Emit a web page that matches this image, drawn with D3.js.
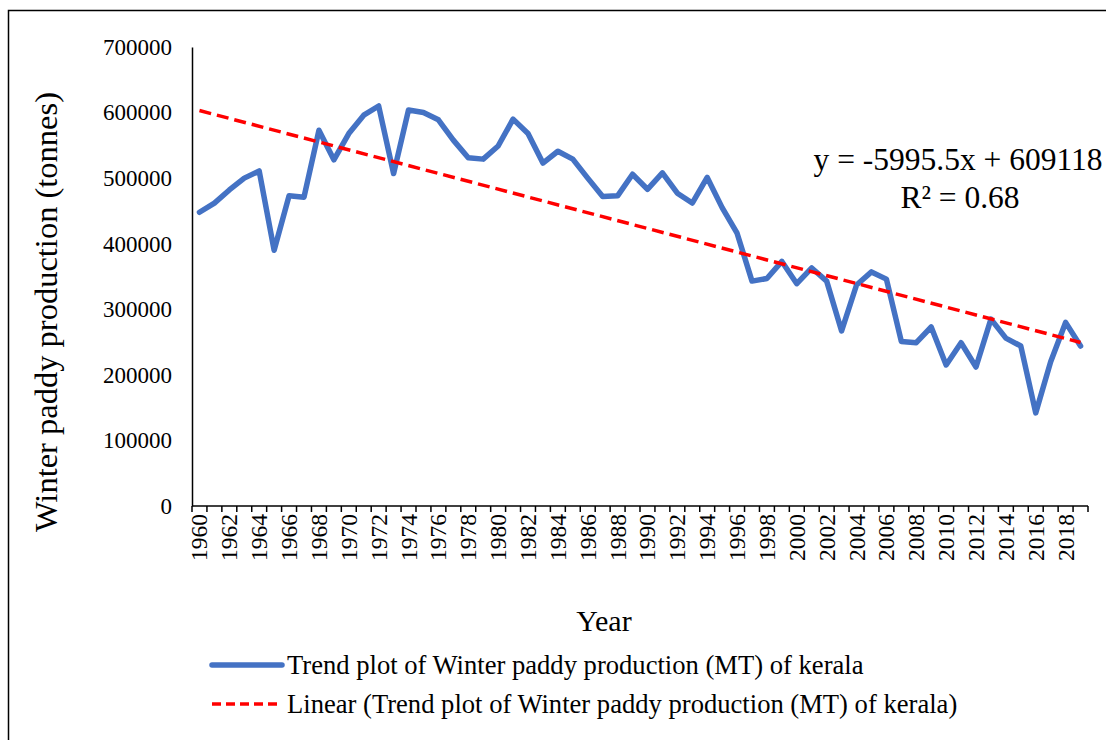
<!DOCTYPE html>
<html><head><meta charset="utf-8">
<script src="https://cdn.jsdelivr.net/npm/d3@7"></script>
<style>
html,body{margin:0;padding:0;background:#fff;}
text{font-family:"Times New Roman","Liberation Serif",serif;fill:#000;}
</style></head>
<body><svg id="chart" width="1106" height="740"></svg>
<script>
const years = d3.range(1960, 2020);
const production = [
 448000,462000,482000,500000,511000,390000,473000,471000,573000,528000,
 568000,596000,610000,507000,604000,600000,589000,558000,531000,529000,
 549000,590000,568000,523000,541000,529000,500000,472000,473000,506000,
 483000,508000,477000,462000,501000,455000,416000,343000,347000,373000,
 339000,363000,343000,267000,337000,357000,346000,251000,249000,273000,
 215000,249000,212000,285000,256000,244000,142000,220000,280000,244000
];
const yTicks = [0,100000,200000,300000,400000,500000,600000,700000];
const trendSlope = -5995.5, trendIntercept = 609118, r2 = 0.68;
const seriesName = "Trend plot of Winter paddy production (MT) of kerala";
const trendName = "Linear (Trend plot of Winter paddy production (MT) of kerala)";
const yTitle = "Winter paddy production (tonnes)";
const xTitle = "Year";

const svg = d3.select("#chart");
svg.append("rect").attr("x",8.5).attr("y",10.5).attr("width",1200).attr("height",800)
  .attr("fill","none").attr("stroke","#000").attr("stroke-width",1.5);

const x = d3.scaleBand().domain(years).range([192,1088]).padding(0);
const y = d3.scaleLinear().domain([0,700000]).range([506,47]);
const cx = d => x(d) + x.bandwidth()/2;

// y axis
const ya = svg.append("g").attr("transform","translate(192,0)")
  .call(d3.axisLeft(y).tickValues(yTicks).tickSize(0).tickPadding(20).tickFormat(d3.format("d")));
ya.select(".domain").attr("stroke","#000").attr("stroke-width",1.5);
ya.selectAll("text").style("font-size","23px").style("font-family",'"Times New Roman","Liberation Serif",serif');

// x axis line and boundary ticks
const xa = svg.append("g");
xa.append("line").attr("x1",x.range()[0]).attr("x2",x.range()[1]).attr("y1",y(0)).attr("y2",y(0))
  .attr("stroke","#000").attr("stroke-width",1.5);
const bounds = years.map(d => x(d)).concat([x.range()[1]]);
xa.selectAll("line.tk").data(bounds).join("line").attr("class","tk")
  .attr("x1",d=>d).attr("x2",d=>d).attr("y1",y(0)).attr("y2",y(0)+6)
  .attr("stroke","#000").attr("stroke-width",1.5);
xa.selectAll("text.yr").data(years.filter((d,i)=>i%2===0)).join("text").attr("class","yr")
  .attr("transform",d=>`translate(${cx(d)},${y(0)+8}) rotate(-90)`)
  .attr("text-anchor","end").attr("dominant-baseline","central")
  .style("font-size","23.5px").text(d=>d);

// series line
const line = d3.line().x((d,i)=>cx(years[i])).y(d=>y(d));
svg.append("path").datum(production).attr("d",line).attr("fill","none")
  .attr("stroke","#4472C4").attr("stroke-width",5.5).attr("stroke-linejoin","round").attr("stroke-linecap","round");

// trend line from displayed equation
const trendPts = [years[0], years[years.length-1]].map(yr => [cx(yr), y(trendIntercept + trendSlope*(yr-years[0]+1))]);
svg.append("path").attr("d",d3.line()(trendPts)).attr("fill","none")
  .attr("stroke","#FF0000").attr("stroke-width",3.5).attr("stroke-dasharray","12,6");

// equation
svg.append("text").attr("x",958).attr("y",170).attr("text-anchor","middle").style("font-size","31.5px")
  .text(`y = ${trendSlope}x + ${trendIntercept}`);
svg.append("text").attr("x",960).attr("y",208).attr("text-anchor","middle").style("font-size","31.5px")
  .text(`R² = ${r2}`);

// axis titles
svg.append("text").attr("transform","translate(46,312) rotate(-90)").attr("text-anchor","middle")
  .attr("dominant-baseline","central").style("font-size","32.5px").text(yTitle);
svg.append("text").attr("x",604).attr("y",631).attr("text-anchor","middle").style("font-size","30px").text(xTitle);

// legend
const lg = svg.append("g");
lg.append("line").attr("x1",212).attr("x2",282).attr("y1",665).attr("y2",665)
  .attr("stroke","#4472C4").attr("stroke-width",5.5).attr("stroke-linecap","round");
lg.append("text").attr("x",287).attr("y",665).attr("dominant-baseline","central").style("font-size","26.6px").text(seriesName);
lg.append("line").attr("x1",212).attr("x2",282).attr("y1",704).attr("y2",704)
  .attr("stroke","#FF0000").attr("stroke-width",3.5).attr("stroke-dasharray","9,5");
lg.append("text").attr("x",287).attr("y",704).attr("dominant-baseline","central").style("font-size","26.6px").text(trendName);
</script></body></html>
